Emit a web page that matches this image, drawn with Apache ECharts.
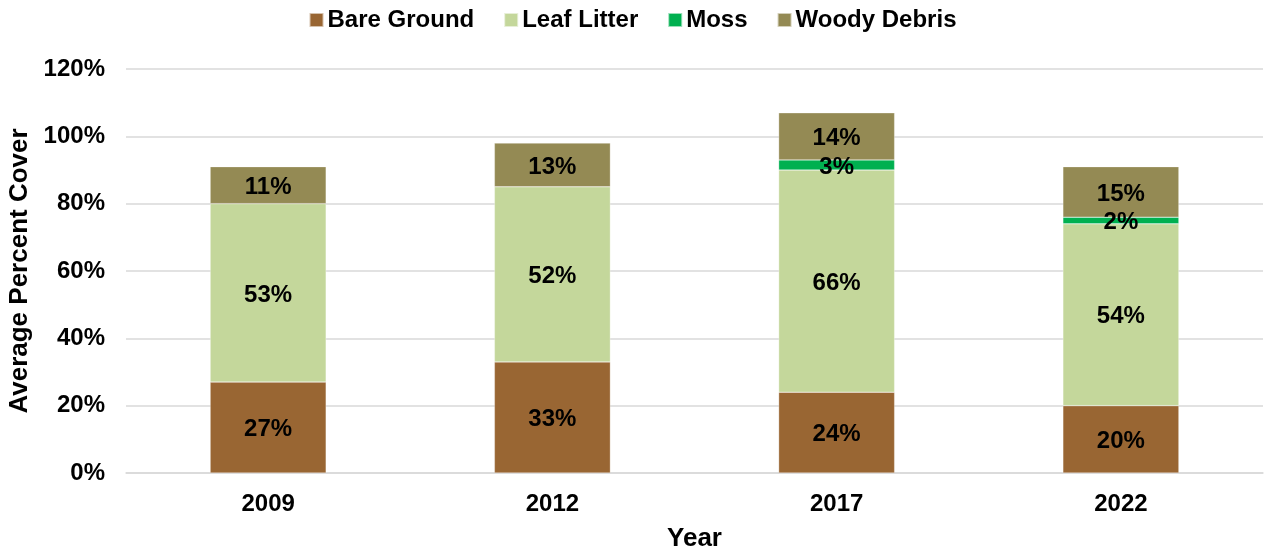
<!DOCTYPE html>
<html>
<head>
<meta charset="utf-8">
<script src="https://cdn.jsdelivr.net/npm/echarts@6/dist/echarts.min.js"></script>
<style>
  html, body { margin: 0; padding: 0; background: #fff; }
  #chart { width: 1265px; height: 552px; }
</style>
</head>
<body>
<div id="chart"></div>
<script>
// Survey years
const years = ['2009', '2012', '2017', '2022'];

// Average percent cover per ground-cover class (null = not recorded)
const bareGround  = [27, 33, 24, 20];
const leafLitter  = [53, 52, 66, 54];
const moss        = [null, null, 3, 2];
const woodyDebris = [11, 13, 14, 15];

// Y-axis ticks (percent)
const yTicks = [0, 20, 40, 60, 80, 100, 120];

const FONT = '"Liberation Sans", Arial, sans-serif';

function stackSeries(name, data, color) {
  return {
    name: name,
    type: 'bar',
    stack: 'cover',
    data: data,
    barWidth: 116,
    itemStyle: { color: color, borderColor: 'rgba(255,255,255,0.6)', borderWidth: 0.5 },
    label: {
      show: true,
      position: 'inside',
      offset: [0, 2],
      formatter: p => (p.value == null ? '' : p.value + '%'),
      color: '#000',
      fontFamily: FONT,
      fontWeight: 'bold',
      fontSize: 24
    },
    emphasis: { disabled: true }
  };
}

const chart = echarts.init(document.getElementById('chart'), null, { renderer: 'canvas' });

chart.setOption({
  animation: false,
  backgroundColor: '#fff',
  legend: {
    top: 3,
    left: 'center',
    itemWidth: 14,
    itemHeight: 14,
    itemGap: 29,
    icon: 'rect',
    textStyle: { fontFamily: FONT, fontWeight: 'bold', fontSize: 24, color: '#000', padding: [0, 0, 0, -1] },
    data: ['Bare Ground', 'Leaf Litter', 'Moss', 'Woody Debris']
  },
  grid: { left: 126, right: 2, top: 69, bottom: 79, containLabel: false, outerBoundsMode: 'none' },
  xAxis: {
    type: 'category',
    data: years,
    name: 'Year',
    nameLocation: 'middle',
    nameGap: 53,
    nameTextStyle: { fontFamily: FONT, fontWeight: 'bold', fontSize: 26, color: '#000' },
    axisLine: { lineStyle: { color: '#D9D9D9', width: 1.5 } },
    axisTick: { show: false },
    axisLabel: { fontFamily: FONT, fontWeight: 'bold', fontSize: 24, color: '#000', margin: 19 }
  },
  yAxis: {
    type: 'value',
    min: yTicks[0],
    max: yTicks[yTicks.length - 1],
    interval: yTicks[1] - yTicks[0],
    name: 'Average Percent Cover',
    nameLocation: 'middle',
    nameGap: 88,
    nameTextStyle: { fontFamily: FONT, fontWeight: 'bold', fontSize: 26, color: '#000' },
    axisLine: { show: false },
    axisTick: { show: false },
    axisLabel: { fontFamily: FONT, fontWeight: 'bold', fontSize: 24, color: '#000', margin: 21, formatter: v => v + '%' },
    splitLine: { lineStyle: { color: '#D9D9D9', width: 1.5 } }
  },
  series: [
    stackSeries('Bare Ground', bareGround, '#996633'),
    stackSeries('Leaf Litter', leafLitter, '#C4D79B'),
    stackSeries('Moss', moss, '#00B050'),
    stackSeries('Woody Debris', woodyDebris, '#948A54')
  ]
});
</script>
</body>
</html>
